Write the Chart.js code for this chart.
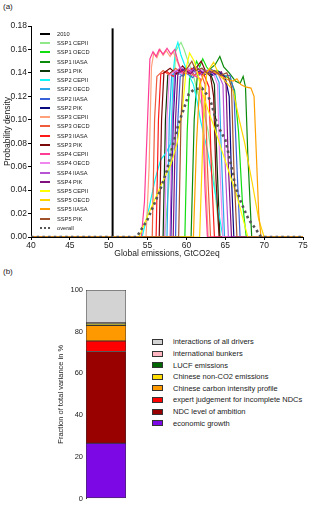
<!DOCTYPE html>
<html>
<head>
<meta charset="utf-8">
<script src="https://cdn.jsdelivr.net/npm/chart.js@4"></script>
<style>
  html, body { margin: 0; padding: 0; background: #fff; }
  body { width: 317px; height: 506px; position: relative; overflow: hidden;
         font-family: "Liberation Sans", Arial, sans-serif; color: #222; }
  .panel-tag { position: absolute; left: 3px; font-size: 8px; }
  .box { position: absolute; }
  .leg { position: absolute; }
  .leg-row { display: flex; align-items: center; white-space: nowrap; }
  .leg-a .leg-row { height: 9.24px; font-size: 5.7px; }
  .leg-a .sw { width: 10px; height: 2px; margin-right: 7px; }
  .leg-b .leg-row { height: 11.6px; font-size: 7.5px; }
  .leg-b .sw { width: 9px; height: 4px; margin-right: 10px; border: 1px solid #333; }
</style>
</head>
<body>
<div class="panel-tag" style="top:2px">(a)</div>
<div class="box" style="left:0;top:0;width:317px;height:262px"><canvas id="density"></canvas></div>
<div id="legend-a" class="leg leg-a" style="left:40px;top:29.4px"></div>

<div class="panel-tag" style="top:267px">(b)</div>
<div class="box" style="left:0;top:280px;width:140px;height:226px"><canvas id="variance"></canvas></div>
<div id="legend-b" class="leg leg-b" style="left:152px;top:336.2px"></div>

<script>
// ---- panel (a): probability density of 2030 emissions, [GtCO2eq, density] ----
const X_TICKS = [40, 45, 50, 55, 60, 65, 70, 75];
const Y_TICKS = [0, 0.02, 0.04, 0.06, 0.08, 0.10, 0.12, 0.14, 0.16, 0.18];
const EMISSIONS_2010 = 50.5;
const LINE_2010_TOP = 0.178;

const ssp1Cepii = [[57.2,0],[57.8,0.05],[58.3,0.11],[58.6,0.158],[59.0,0.163],[59.3,0.166],[59.7,0.16],[60.2,0.15],[60.8,0.14],[61.5,0.122],[62.2,0.108],[62.8,0.09],[63.4,0.06],[63.9,0.025],[64.3,0]];
const ssp1Oecd  = [[59.8,0],[60.1,0.09],[60.4,0.135],[60.9,0.14],[61.3,0.15],[61.7,0.145],[62.1,0.152],[62.6,0.145],[63.2,0.14],[64.0,0.142],[64.8,0.138],[65.6,0.135],[66.2,0.125],[66.7,0.09],[67.2,0.03],[67.7,0]];
const ssp1Iiasa = [[60.6,0],[61.0,0.1],[61.4,0.138],[62.2,0.14],[63.0,0.143],[63.7,0.147],[64.3,0.154],[64.8,0.145],[65.5,0.14],[66.3,0.133],[66.9,0.131],[67.3,0.137],[67.6,0.128],[67.9,0.07],[68.4,0]];
const ssp1Pik   = [[57.0,0],[57.3,0.1],[57.6,0.138],[58.3,0.142],[59.0,0.139],[59.8,0.144],[60.6,0.14],[61.4,0.143],[62.2,0.138],[63.0,0.141],[63.6,0.13],[63.9,0.07],[64.3,0]];
const ssp2Cepii = [[54.3,0],[55.2,0.025],[56.0,0.05],[56.7,0.066],[57.4,0.072],[58.0,0.08],[58.3,0.14],[58.6,0.16],[58.9,0.166],[59.3,0.155],[59.7,0.148],[60.2,0.14],[60.9,0.13],[61.4,0.115],[61.8,0.1],[62.7,0.074],[63.5,0.045],[64.1,0.023],[64.7,0]];
const ssp2Oecd  = [[57.5,0],[57.8,0.1],[58.1,0.138],[58.8,0.141],[59.6,0.137],[60.4,0.143],[61.2,0.14],[62.0,0.144],[62.8,0.139],[63.6,0.141],[64.2,0.132],[64.5,0.07],[64.9,0]];
const ssp2Iiasa = [[58.6,0],[58.9,0.1],[59.2,0.137],[60.0,0.14],[60.8,0.136],[61.6,0.142],[62.4,0.139],[63.2,0.143],[64.0,0.14],[64.8,0.137],[65.6,0.138],[66.1,0.125],[66.5,0.06],[66.9,0]];
const ssp2Pik   = [[58.0,0],[58.3,0.1],[58.6,0.14],[59.4,0.143],[60.2,0.139],[61.0,0.145],[61.8,0.14],[62.6,0.142],[63.4,0.138],[64.2,0.141],[65.0,0.136],[65.5,0.12],[65.8,0.05],[66.1,0]];
const ssp3Cepii = [[54.8,0],[55.2,0.06],[55.5,0.145],[55.8,0.157],[56.2,0.153],[56.6,0.16],[57.0,0.155],[57.4,0.159],[57.9,0.154],[58.3,0.158],[58.8,0.15],[59.3,0.142],[60.0,0.14],[60.8,0.138],[61.6,0.136],[62.1,0.12],[62.5,0.05],[62.8,0]];
const ssp3Oecd  = [[55.6,0],[55.9,0.1],[56.2,0.137],[57.0,0.142],[57.8,0.138],[58.6,0.144],[59.4,0.14],[60.2,0.143],[61.0,0.138],[61.8,0.141],[62.4,0.13],[62.7,0.06],[63.1,0]];
const ssp3Iiasa = [[56.1,0],[56.4,0.1],[56.7,0.139],[57.5,0.141],[58.3,0.137],[59.1,0.143],[59.9,0.139],[60.7,0.144],[61.5,0.14],[62.3,0.138],[62.9,0.128],[63.2,0.06],[63.6,0]];
const ssp3Pik   = [[56.5,0],[56.8,0.1],[57.1,0.14],[57.9,0.144],[58.7,0.139],[59.5,0.146],[60.3,0.14],[61.1,0.143],[61.9,0.15],[62.5,0.141],[63.1,0.137],[63.5,0.12],[63.8,0.05],[64.2,0]];
const ssp4Cepii = [[54.2,0],[54.6,0.03],[55.0,0.1],[55.3,0.152],[55.7,0.158],[56.1,0.154],[56.5,0.16],[57.0,0.156],[57.5,0.161],[58.0,0.156],[58.5,0.16],[58.9,0.15],[59.4,0.14],[60.2,0.142],[61.0,0.138],[61.8,0.135],[62.1,0.1],[62.4,0.04],[62.7,0]];
const ssp4Oecd  = [[57.2,0],[57.5,0.1],[57.8,0.138],[58.6,0.142],[59.4,0.139],[60.2,0.144],[61.0,0.14],[61.8,0.143],[62.6,0.139],[63.4,0.141],[64.0,0.13],[64.3,0.06],[64.7,0]];
const ssp4Iiasa = [[57.9,0],[58.2,0.1],[58.5,0.14],[59.3,0.145],[60.1,0.14],[60.9,0.143],[61.7,0.138],[62.5,0.142],[63.3,0.14],[64.1,0.139],[64.7,0.13],[65.0,0.06],[65.4,0]];
const ssp4Pik   = [[58.3,0],[58.6,0.1],[58.9,0.14],[59.7,0.143],[60.5,0.139],[61.3,0.145],[62.1,0.14],[62.9,0.142],[63.7,0.139],[64.5,0.141],[65.1,0.13],[65.4,0.06],[65.8,0]];
const ssp5Cepii = [[53.9,0],[55.0,0.018],[56.0,0.033],[57.0,0.048],[58.0,0.062],[58.8,0.08],[59.5,0.11],[60.0,0.145],[60.4,0.157],[61.0,0.15],[61.6,0.135],[62.2,0.12],[62.8,0.108],[63.5,0.095],[64.5,0.075],[65.5,0.055],[66.5,0.035],[67.3,0.015],[67.9,0]];
const ssp5Oecd  = [[61.7,0],[62.2,0.1],[62.6,0.14],[63.5,0.149],[64.2,0.138],[65.0,0.133],[66.0,0.125],[66.8,0.1],[67.5,0.08],[68.5,0.045],[69.3,0.015],[70.0,0]];
const ssp5Iiasa = [[60.9,0],[61.3,0.08],[61.7,0.13],[62.3,0.14],[63.0,0.143],[63.8,0.14],[64.6,0.137],[65.4,0.134],[66.0,0.133],[66.5,0.135],[67.0,0.13],[67.6,0.128],[68.3,0.127],[68.7,0.12],[69.0,0.07],[69.3,0.02],[69.6,0]];
const ssp5Pik   = [[59.0,0],[59.3,0.1],[59.6,0.14],[60.2,0.145],[60.7,0.15],[61.2,0.142],[62.0,0.144],[62.8,0.139],[63.6,0.142],[64.4,0.138],[65.2,0.14],[65.8,0.128],[66.1,0.06],[66.5,0]];
const overall   = [[53.6,0],[55.0,0.015],[56.5,0.038],[57.5,0.057],[58.2,0.077],[59.0,0.097],[59.6,0.108],[60.3,0.122],[61.0,0.126],[62.0,0.127],[62.8,0.12],[63.2,0.114],[64.0,0.095],[65.0,0.083],[65.9,0.057],[66.3,0.043],[67.0,0.03],[68.0,0.015],[68.8,0.008],[69.6,0]];

const SERIES_LABELS = [
  'SSP1 CEPII','SSP1 OECD','SSP1 IIASA','SSP1 PIK',
  'SSP2 CEPII','SSP2 OECD','SSP2 IIASA','SSP2 PIK',
  'SSP3 CEPII','SSP3 OECD','SSP3 IIASA','SSP3 PIK',
  'SSP4 CEPII','SSP4 OECD','SSP4 IIASA','SSP4 PIK',
  'SSP5 CEPII','SSP5 OECD','SSP5 IIASA','SSP5 PIK'
];
const SERIES_DATA = [
  ssp1Cepii, ssp1Oecd, ssp1Iiasa, ssp1Pik,
  ssp2Cepii, ssp2Oecd, ssp2Iiasa, ssp2Pik,
  ssp3Cepii, ssp3Oecd, ssp3Iiasa, ssp3Pik,
  ssp4Cepii, ssp4Oecd, ssp4Iiasa, ssp4Pik,
  ssp5Cepii, ssp5Oecd, ssp5Iiasa, ssp5Pik
];
const SERIES_COLORS = [
  '#8fe98a','#11dd11','#0a8a0a','#0a3a0a',
  '#11f5f5','#2aa8ea','#3a62d8','#0a0a80',
  '#ffa07a','#ee5a3a','#ff1a1a','#7a0a0a',
  '#ff3d96','#ee88ee','#b654d4','#80107e',
  '#ffff00','#ffd500','#ffa000','#a0522d'
];

// ---- panel (b): variance decomposition, bottom to top ----
const DRIVERS = [
  'economic growth','NDC level of ambition','expert judgement for incomplete NDCs',
  'Chinese carbon intensity profile','Chinese non-CO2 emissions','LUCF emissions',
  'international bunkers','interactions of all drivers'
];
const VARIANCE_PCT = [26.5, 44.0, 5.0, 7.5, 0.5, 0.4, 0.4, 15.7];
const DRIVER_COLORS = ['#7d08e6','#990000','#ff0000','#ff9900','#ffdd00','#006600','#ffb6c1','#d3d3d3'];
const VAR_TICKS = [0, 20, 40, 60, 80, 100];

Chart.defaults.font.family = '"Liberation Sans", Arial, sans-serif';
Chart.defaults.color = '#222';

// curves are zero over the whole axis outside their support
const withBaseline = (pts) => [[X_TICKS[0], 0], ...pts, [X_TICKS[X_TICKS.length-1], 0]]
  .map(([x, y]) => ({ x, y }));

function densityDatasets() {
  const sets = [{
    label: '2010',
    data: [{ x: EMISSIONS_2010, y: 0 }, { x: EMISSIONS_2010, y: LINE_2010_TOP }],
    borderColor: '#000', borderWidth: 2, legendColor: '#000'
  }];
  SERIES_DATA.forEach((pts, i) => sets.push({
    label: SERIES_LABELS[i], data: withBaseline(pts),
    borderColor: SERIES_COLORS[i], borderWidth: 1.2, legendColor: SERIES_COLORS[i]
  }));
  sets.push({
    label: 'overall', data: withBaseline(overall),
    borderColor: '#555', borderWidth: 2.6, borderDash: [2.5, 3.2], legendColor: '#555', dotted: true
  });
  // later series are painted over earlier ones
  sets.forEach((d, i) => { d.order = sets.length - i; d.pointRadius = 0; d.tension = 0; d.fill = false; });
  return sets;
}

const axisGrid = { drawOnChartArea: false, color: '#000', tickLength: 3 };

const densityChart = new Chart(document.getElementById('density'), {
  type: 'line',
  data: { datasets: densityDatasets() },
  options: {
    responsive: true, maintainAspectRatio: false, animation: false,
    layout: { padding: { left: 0, top: 26, right: 14, bottom: 0 } },
    plugins: { legend: { display: false }, tooltip: { enabled: false } },
    scales: {
      x: {
        type: 'linear', min: X_TICKS[0], max: X_TICKS[X_TICKS.length-1],
        afterBuildTicks: (s) => { s.ticks = X_TICKS.map(v => ({ value: v })); },
        afterFit: (s) => { s.height = 25; },
        grid: axisGrid, border: { color: '#000' },
        ticks: { font: { size: 8.5 }, padding: 1, maxRotation: 0 },
        title: { display: true, text: 'Global emissions, GtCO2eq', font: { size: 8.5 }, padding: { top: 0, bottom: 3 } }
      },
      y: {
        min: Y_TICKS[0], max: Y_TICKS[Y_TICKS.length-1],
        afterBuildTicks: (s) => { s.ticks = Y_TICKS.map(v => ({ value: v })); },
        afterFit: (s) => { s.width = 31; },
        grid: axisGrid, border: { color: '#000' },
        ticks: { font: { size: 8.5 }, padding: 1, callback: (v) => Number(v).toFixed(2) },
        title: { display: true, text: 'Probability density', font: { size: 8.5 }, padding: { top: 3, bottom: 0 } }
      }
    }
  }
});

const varianceChart = new Chart(document.getElementById('variance'), {
  type: 'bar',
  data: {
    labels: [''],
    datasets: DRIVERS.map((name, i) => ({
      label: name, data: [VARIANCE_PCT[i]], backgroundColor: DRIVER_COLORS[i],
      borderColor: '#333', borderWidth: 0.8, borderSkipped: false,
      barPercentage: 1, categoryPercentage: 1
    }))
  },
  options: {
    responsive: true, maintainAspectRatio: false, animation: false,
    layout: { padding: { left: 53, top: 10, right: 14, bottom: 7 } },
    plugins: { legend: { display: false }, tooltip: { enabled: false } },
    scales: {
      x: { stacked: true, display: false },
      y: {
        stacked: true, min: 0, max: 100,
        afterBuildTicks: (s) => { s.ticks = VAR_TICKS.map(v => ({ value: v })); },
        afterFit: (s) => { s.width = 33; },
        grid: { drawOnChartArea: false, drawTicks: false }, border: { color: '#333' },
        ticks: { font: { size: 7.5 }, padding: 3 },
        title: { display: true, text: 'Fraction of total variance in %', font: { size: 7.5 }, padding: { top: 3, bottom: 0 } }
      }
    }
  }
});

function buildLegend(el, items, swatch) {
  items.forEach(it => {
    const row = document.createElement('div');
    row.className = 'leg-row';
    const sw = document.createElement('span');
    sw.className = 'sw';
    swatch(sw, it);
    const txt = document.createElement('span');
    txt.textContent = it.label;
    row.appendChild(sw); row.appendChild(txt);
    el.appendChild(row);
  });
}

buildLegend(document.getElementById('legend-a'), densityChart.data.datasets, (sw, d) => {
  if (d.dotted) {
    sw.style.height = '0';
    sw.style.borderTop = '2.6px dotted ' + d.legendColor;
  } else {
    sw.style.background = d.legendColor;
    if (d.label === '2010') sw.style.height = '2.5px';
  }
});

buildLegend(document.getElementById('legend-b'),
  varianceChart.data.datasets.slice().reverse(),
  (sw, d) => { sw.style.background = d.backgroundColor; });
</script>
</body>
</html>
